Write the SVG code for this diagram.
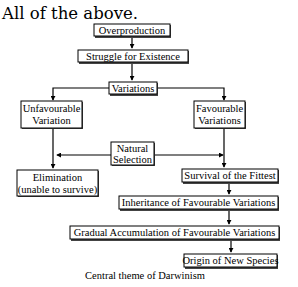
<svg xmlns="http://www.w3.org/2000/svg" width="298" height="287" viewBox="0 0 298 287">
<style>
.t{font-family:"Liberation Serif","Times New Roman",serif;font-size:10.5px;fill:#000;text-anchor:middle}
.box rect.s{fill:#444}
.box rect.b{fill:#fff;stroke:#000;stroke-width:1}
.c{fill:none;stroke:#000;stroke-width:1.2}
</style>
<defs>
<marker id="ah" viewBox="0 0 6 6" refX="5" refY="3" markerWidth="5" markerHeight="5" orient="auto" markerUnits="userSpaceOnUse">
<path d="M0,0 L6,3 L0,6 z" fill="#000"/>
</marker>
</defs>
<rect width="298" height="287" fill="#fff"/>
<text x="2" y="19" font-family="DejaVu Serif,serif" font-size="16" textLength="136" lengthAdjust="spacingAndGlyphs">All of the above.</text>
<g id="connectors">
<path class="c" d="M132,37 V48" marker-end="url(#ah)"/>
<path class="c" d="M132,64 V80" marker-end="url(#ah)"/>
<path class="c" d="M109,88 H53 V100" marker-end="url(#ah)"/>
<path class="c" d="M157,88 H224 V100" marker-end="url(#ah)"/>
<path class="c" d="M53,129 V168" marker-end="url(#ah)"/>
<path class="c" d="M224,129 V167" marker-end="url(#ah)"/>
<path class="c" d="M111,155 H57" marker-end="url(#ah)"/>
<path class="c" d="M154,155 H223" marker-end="url(#ah)"/>
<path class="c" d="M229,184 V194" marker-end="url(#ah)"/>
<path class="c" d="M229,211 V224" marker-end="url(#ah)"/>
<path class="c" d="M231,241 V252" marker-end="url(#ah)"/>
</g>
<g id="overproduction" class="box"><rect class="s" x="95" y="25" width="76" height="13"/><rect class="b" x="94" y="24" width="76" height="12"/><text class="t" x="132" y="33.5">Overproduction</text></g>
<g id="struggle" class="box"><rect class="s" x="79" y="51" width="110" height="13"/><rect class="b" x="78" y="50" width="110" height="12"/><text class="t" x="133" y="59.5">Struggle for Existence</text></g>
<g id="variations" class="box"><rect class="s" x="110" y="83" width="48" height="13"/><rect class="b" x="109" y="82" width="48" height="12"/><text class="t" x="133" y="91.5">Variations</text></g>
<g id="unfavourable" class="box"><rect class="s" x="22" y="102" width="61" height="27"/><rect class="b" x="21" y="101" width="61" height="27"/><text class="t" x="51.5" y="112">Unfavourable</text><text class="t" x="51.5" y="124">Variation</text></g>
<g id="favourable" class="box"><rect class="s" x="195" y="102" width="51" height="27"/><rect class="b" x="194" y="101" width="51" height="27"/><text class="t" x="219.5" y="112">Favourable</text><text class="t" x="219.5" y="124">Variations</text></g>
<g id="natural-selection" class="box"><rect class="s" x="112" y="143" width="43" height="23"/><rect class="b" x="111" y="142" width="43" height="23"/><text class="t" x="132.5" y="152">Natural</text><text class="t" x="132.5" y="162.5">Selection</text></g>
<g id="elimination" class="box"><rect class="s" x="18" y="171" width="81" height="26"/><rect class="b" x="17" y="170" width="81" height="26"/><text class="t" x="57.5" y="181">Elimination</text><text class="t" x="57.5" y="192.5">(unable to survive)</text></g>
<g id="survival" class="box"><rect class="s" x="183" y="170" width="96" height="14"/><rect class="b" x="182" y="169" width="96" height="13"/><text class="t" x="230" y="179">Survival of the Fittest</text></g>
<g id="inheritance" class="box"><rect class="s" x="120" y="197" width="159" height="14"/><rect class="b" x="119" y="196" width="159" height="13"/><text class="t" x="198.5" y="206">Inheritance of Favourable Variations</text></g>
<g id="gradual" class="box"><rect class="s" x="71" y="227" width="209" height="14"/><rect class="b" x="70" y="226" width="209" height="13"/><text class="t" x="174.5" y="236">Gradual Accumulation of Favourable Variations</text></g>
<g id="origin" class="box"><rect class="s" x="185" y="255" width="93" height="14"/><rect class="b" x="184" y="254" width="93" height="13"/><text class="t" x="230.5" y="264">Origin of New Species</text></g>
<text class="t" x="145" y="279" font-size="10">Central theme of Darwinism</text>
</svg>
